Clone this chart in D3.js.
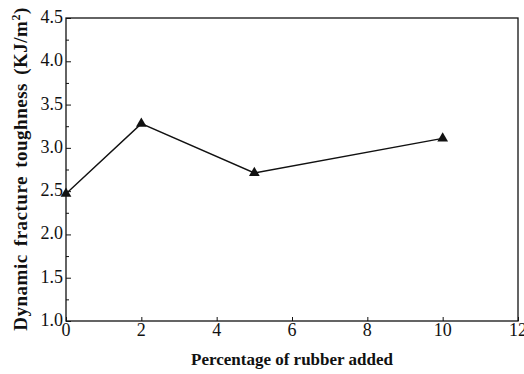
<!DOCTYPE html>
<html>
<head>
<meta charset="utf-8">
<script src="https://cdn.jsdelivr.net/npm/d3@7"></script>
<style>
  body { margin: 0; background: #fff; }
  text { font-family: "Liberation Serif", "Times New Roman", serif; fill: #111; }
</style>
</head>
<body>
<div id="chart"></div>
<script>
// values
const rubber = [0, 2, 5, 10];
const toughness = [2.47, 3.28, 2.71, 3.11];
const xTicks = [0, 2, 4, 6, 8, 10, 12];
const yTicks = [1.0, 1.5, 2.0, 2.5, 3.0, 3.5, 4.0, 4.5];
const yMinor = [1.25, 1.75, 2.25, 2.75, 3.25, 3.75, 4.25];

const width = 524, height = 374;
const margin = { top: 18, right: 6, bottom: 53, left: 66 };
const w = width - margin.left - margin.right;
const h = height - margin.top - margin.bottom;

const svg = d3.select('#chart').append('svg')
    .attr('width', width)
    .attr('height', height);

const g = svg.append('g')
    .attr('transform', `translate(${margin.left},${margin.top})`);

const x = d3.scaleLinear().domain([0, 12]).range([0, w]);
const y = d3.scaleLinear().domain([1, 4.5]).range([h, 0]);

// frame
g.append('rect')
    .attr('width', w).attr('height', h)
    .attr('fill', 'none').attr('stroke', '#111').attr('stroke-width', 1.3);

// y axis, ticks pointing inward
const yAxis = g.append('g')
    .call(d3.axisRight(y).tickValues(yTicks).tickSize(5).tickFormat(''));
yAxis.select('.domain').remove();
yAxis.selectAll('line').attr('stroke', '#111');

g.append('g')
    .call(d3.axisRight(y).tickValues(yMinor).tickSize(3).tickFormat(''))
    .call(a => a.select('.domain').remove())
    .selectAll('line').attr('stroke', '#111');

g.selectAll('.ylab')
    .data(yTicks)
    .enter().append('text')
    .attr('class', 'ylab')
    .attr('x', -3)
    .attr('y', d => y(d) + 5)
    .attr('text-anchor', 'end')
    .style('font-size', '18px')
    .text(d => d.toFixed(1));

// x axis, ticks pointing inward
const xAxis = g.append('g')
    .attr('transform', `translate(0,${h})`)
    .call(d3.axisTop(x).tickValues(xTicks).tickSize(4).tickFormat(''));
xAxis.select('.domain').remove();
xAxis.selectAll('line').attr('stroke', '#111');

g.selectAll('.xlab')
    .data(xTicks)
    .enter().append('text')
    .attr('class', 'xlab')
    .attr('x', d => x(d))
    .attr('y', h + 15)
    .attr('text-anchor', 'middle')
    .style('font-size', '18px')
    .text(d => d);

// axis titles
g.append('text')
    .attr('x', w / 2)
    .attr('y', h + 44)
    .attr('text-anchor', 'middle')
    .style('font-size', '17px')
    .style('font-weight', 'bold')
    .text('Percentage of rubber added');

const yt = svg.append('text')
    .attr('transform', `translate(27,169) rotate(-90)`)
    .attr('text-anchor', 'middle')
    .style('font-size', '19px')
    .style('font-weight', 'bold')
    .style('letter-spacing', '0.5px')
    .style('word-spacing', '3px');
yt.append('tspan').text('Dynamic fracture toughness (KJ/m');
yt.append('tspan').attr('dy', -7).style('font-size', '12px').text('2');
yt.append('tspan').attr('dy', 7).text(')');

// data line
const pts = rubber.map((r, i) => ({ r: r, t: toughness[i] }));

g.append('path')
    .datum(pts)
    .attr('fill', 'none')
    .attr('stroke', '#111')
    .attr('stroke-width', 1.4)
    .attr('d', d3.line().x(d => x(d.r)).y(d => y(d.t)));

g.selectAll('.pt')
    .data(pts)
    .enter().append('path')
    .attr('class', 'pt')
    .attr('transform', d => `translate(${x(d.r)},${y(d.t)})`)
    .attr('d', d3.symbol().type(d3.symbolTriangle).size(50))
    .attr('fill', '#111');
</script>
</body>
</html>
